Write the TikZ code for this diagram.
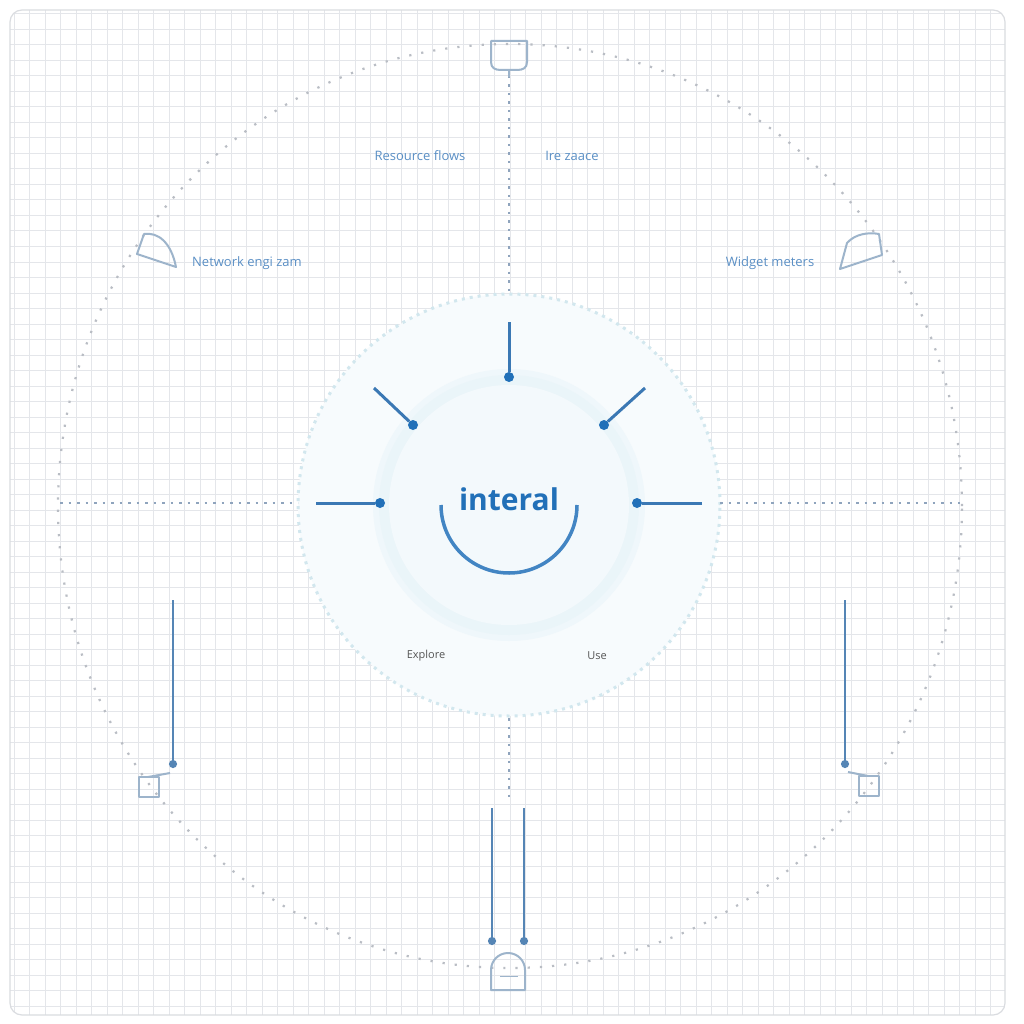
\documentclass[tikz,border=0pt]{standalone}
\usepackage{fontspec}
\setmainfont{Open Sans}
\usetikzlibrary{arrows.meta}
\definecolor{gridc}{HTML}{E4E6EA}
\definecolor{bordc}{HTML}{DADCE0}
\definecolor{outerdot}{HTML}{B9BDC4}
\definecolor{axisdot}{HTML}{8FA4BD}
\definecolor{midfill}{HTML}{F7FBFD}
\definecolor{middot}{HTML}{D2E7EE}
\definecolor{ringc}{HTML}{EAF5F9}
\definecolor{innerfill}{HTML}{F3F9FC}
\definecolor{mainblue}{HTML}{2170B8}
\definecolor{spokec}{HTML}{3B78B4}
\definecolor{arrowc}{HTML}{5585B5}
\definecolor{shapec}{HTML}{9DB4CB}
\definecolor{lblblue}{HTML}{5A8FC5}
\definecolor{lblgray}{HTML}{555555}
\tikzset{
  dotnode/.style={circle,fill=mainblue,inner sep=0pt,minimum size=10pt},
  spoke/.style={spokec,line width=3pt},
  downarrow/.style={arrowc,line width=2.5pt,-{Circle[length=8pt]}},
  shapeline/.style={shapec,line width=2pt,line join=round},
  toplbl/.style={text=lblblue,font=\fontsize{13}{15}\selectfont,inner sep=1pt},
  graylbl/.style={text=lblgray,font=\fontsize{11}{13}\selectfont,inner sep=1pt},
  axis/.style={axisdot,line width=2.5pt,dash pattern=on 2.5pt off 6pt},
}
\begin{document}
\begin{tikzpicture}[x=1pt,y=-1pt]
\useasboundingbox (0,0) rectangle (1024,1024);
\fill[white] (0,0) rectangle (1024,1024);
\begin{scope}
\clip[rounded corners=12pt] (10,10) rectangle (1005,1015);
\foreach \i in {0,...,64}{
  \draw[gridc,line width=1pt] ({14+15.5*\i},10) -- ({14+15.5*\i},1015);
  \draw[gridc,line width=1pt] (10,{14+15.5*\i}) -- (1005,{14+15.5*\i});
}
\end{scope}
\draw[bordc,line width=1.2pt,rounded corners=12pt] (10,10) rectangle (1005,1015);

\coordinate (c) at (509,505);
% outer dotted ring
\draw[outerdot,line width=2.2pt,dash pattern=on 2.2pt off 10pt] (510,506) ellipse[x radius=452pt,y radius=462pt];
% middle circle
\fill[midfill] (c) circle[radius=211pt];
\draw[middot,line width=3pt,dash pattern=on 3pt off 5pt] (c) circle[radius=211pt];
% inner circle with soft halo
\fill[ringc!60!midfill] (c) circle[radius=136pt];
\fill[ringc] (c) circle[radius=130pt];
\fill[innerfill] (c) circle[radius=120pt];

% axis dotted lines
\coordinate (axL1) at (60,503);
\coordinate (axL2) at (298,503);
\coordinate (axR1) at (720,503);
\coordinate (axR2) at (960,503);
\coordinate (axT1) at (509,76);
\coordinate (axT2) at (509,296);
\coordinate (axB1) at (509,718);
\coordinate (axB2) at (509,800);
\draw[axis] (axL1) -- (axL2);
\draw[axis] (axR1) -- (axR2);
\draw[axis] (axT1) -- (axT2);
\draw[axis] (axB1) -- (axB2);

% center text and arc
\node[text=mainblue,font=\bfseries\fontsize{30}{34}\selectfont,inner sep=0pt] (title) at (509,499) {interal};
\draw[mainblue!85!white,line width=3.5pt] (441,505) arc[start angle=180,end angle=360,radius=68pt];

% spokes
\node[dotnode] (dT) at (509,377) {};
\node[dotnode] (dL) at (380,503) {};
\node[dotnode] (dR) at (637,503) {};
\node[dotnode] (dUL) at (413,425) {};
\node[dotnode] (dUR) at (604,425) {};
\coordinate (sT) at (509,322);
\coordinate (sL) at (316,503);
\coordinate (sR) at (702,503);
\coordinate (sUL) at (374,388);
\coordinate (sUR) at (645,388);
\draw[spoke] (sT) -- (dT);
\draw[spoke] (sL) -- (dL);
\draw[spoke] (sR) -- (dR);
\draw[spoke] (sUL) -- (dUL);
\draw[spoke] (sUR) -- (dUR);

% labels
\node[toplbl] (lbA) at (420,156) {Resource flows};
\node[toplbl] (lbB) at (572,156) {Ire zaace};
\node[toplbl] (lbC) at (247,263) {Network engi zam};
\node[toplbl] (lbD) at (770,263) {Widget meters};
\node[graylbl] (lbE) at (426,656) {Explore};
\node[graylbl] (lbF) at (597,656) {Use};

% corner shapes
% top
\draw[shapeline] (491,41) -- (527,41) -- (527,62) .. controls (527,68) and (523,70) .. (517,70) -- (501,70) .. controls (495,70) and (491,68) .. (491,62) -- cycle;
\draw[shapeline] (509,70) -- (509,77);
% upper left
\draw[shapeline] (137,254) -- (144,234) .. controls (158,232) and (171,242) .. (176,267) -- cycle;
% upper right
\draw[shapeline] (840,269) -- (847,243) .. controls (855,234) and (868,232) .. (879,234) -- (882,255) -- cycle;
% bottom left
\draw[shapeline] (139,777) rectangle (159,797);
\draw[shapeline] (148,777) -- (170,773);
% bottom right
\draw[shapeline] (859,776) rectangle (879,796);
\draw[shapeline] (848,772) -- (868,776);
% bottom dome
\draw[shapeline] (491,990) -- (491,970) arc[start angle=180,end angle=0,radius=17pt] -- (525,990) -- cycle;
\draw[shapeline,line width=1pt] (500,976) -- (518,976);

% downward connectors
\coordinate (aL1) at (173,600);
\coordinate (aL2) at (173,768);
\coordinate (aR1) at (845,600);
\coordinate (aR2) at (845,768);
\coordinate (aB1) at (492,808);
\coordinate (aB2) at (492,945);
\coordinate (aC1) at (524,808);
\coordinate (aC2) at (524,945);
\draw[downarrow] (aL1) -- (aL2);
\draw[downarrow] (aR1) -- (aR2);
\draw[downarrow] (aB1) -- (aB2);
\draw[downarrow] (aC1) -- (aC2);
\end{tikzpicture}
\end{document}
